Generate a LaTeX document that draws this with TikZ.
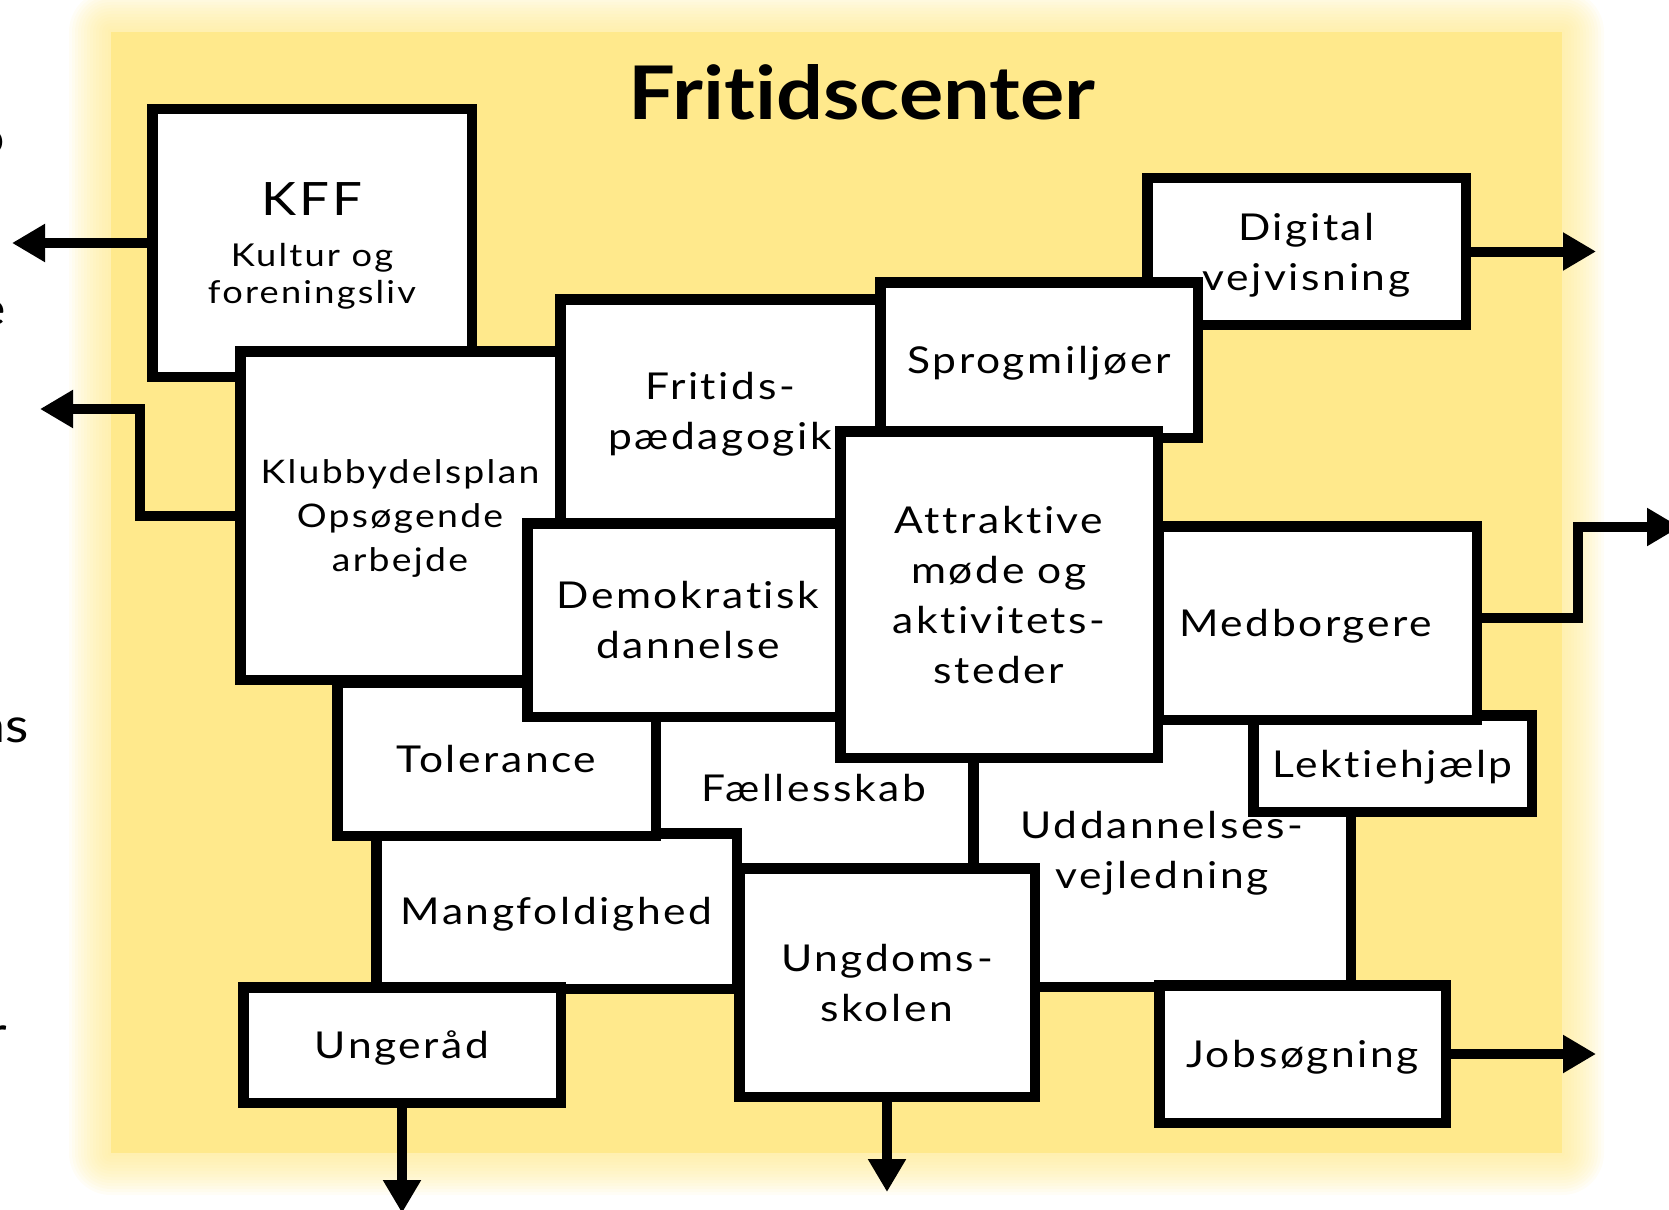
\documentclass[tikz,border=0pt]{standalone}
\usepackage{fontspec}
\setmainfont{Lato}[FakeStretch=1.15, LetterSpace=7, Ligatures=NoCommon]
\newfontfamily\titlefont{Lato}[FakeStretch=1.12, Ligatures=NoCommon]
\usetikzlibrary{arrows.meta}
\definecolor{bgyellow}{RGB}{255,233,140}
\newcommand\drawbox[7][]{%
  \node[box,#1,minimum width={(#5-#3-10.5)*1pt},minimum height={(#6-#4-10.5)*1pt}] (#2) at ({(#3+#5)/2},{(#4+#6)/2}) {#7};}
\begin{document}
\begin{tikzpicture}[x=1pt,y=-1pt,
  box/.style={draw=black, fill=white, line width=10.5pt, align=center, inner sep=0pt,
    text depth=0pt, font=\fontsize{37}{50}\selectfont},
  arr/.style={line width=10pt, -{Triangle[length=33pt,width=36pt]}},
  frag/.style={font=\titlefont\fontsize{48}{48}\selectfont, inner sep=0pt}]
\useasboundingbox (0,0) rectangle (1669,1209);
% background with soft glow
\foreach \i in {14,13,...,1}{
  \fill[bgyellow, opacity=0.08, rounded corners={\i*3pt}] ({111-\i*3},{32-\i*3}) rectangle ({1562+\i*3},{1153+\i*3});
}
\fill[bgyellow] (111,32) rectangle (1562,1153);
% cut-off text at left edge
\node[frag, anchor=base east] (fa) at (5,155) {o};
\node[frag, anchor=base east] (fb) at (6,325) {e};
\node[frag, anchor=base east] (fc) at (29,742) {ns};
\node[frag, anchor=base east] (fd) at (7,1050) {r};
% title
\node[font=\titlefont\fontsize{74}{74}\selectfont\bfseries, anchor=base, inner sep=0pt] (title) at (862,120) {Fritidscenter};
% boxes, bottom to top
\drawbox{udd}{968}{708}{1356}{992}{Uddannelses-\\vejledning}
\drawbox{faell}{650}{703}{978}{873}{Fællesskab}
\drawbox{mang}{371}{828}{742}{994}{Mangfoldighed}
\drawbox{tol}{332}{677}{661}{841}{Tolerance}
\drawbox[font=\fontsize{31.5}{37}\selectfont]{kff}{147}{104}{477}{382}{{\fontsize{46}{46}\selectfont KFF}\\[14pt]Kultur og\\foreningsliv}
\drawbox[font=\fontsize{32.5}{44}\selectfont]{klub}{235}{346}{565}{685}{Klubbydelsplan\\Opsøgende\\arbejde}
\drawbox{dig}{1142}{173}{1471}{330}{Digital\\vejvisning}
\drawbox{frit}{555}{294}{885}{528}{Fritids-\\pædagogik}
\drawbox{sprog}{875}{277}{1203}{443}{Sprogmiljøer}
\drawbox{demo}{522}{518}{854}{722}{Demokratisk\\dannelse}
\drawbox{attr}{835}{426}{1163}{763}{Attraktive\\møde og\\aktivitets-\\steder}
\drawbox{lekt}{1248}{710}{1537}{817}{Lektiehjælp}
\drawbox{medb}{1153}{521}{1482}{725}{\hspace*{-24pt}Medborgere}
\drawbox{ungd}{734}{863}{1040}{1102}{Ungdoms-\\skolen}
\drawbox{unger}{238}{982}{566}{1108}{Ungeråd}
\drawbox{jobs}{1154}{980}{1451}{1128}{Jobsøgning}
% connector ends
\coordinate (kffend) at (12,243);
\coordinate (klubend) at (40,409);
\coordinate (digend) at (1596,251.5);
\coordinate (medbend) at (1680,527);
\coordinate (jobsend) at (1596,1054);
\coordinate (ungerend) at (402,1213);
\coordinate (ungdend) at (887,1192);
% connectors
\draw[arr] (kff.west) -- (kffend);
\draw[arr] (klub.west) -- ++(-95.5,0) |- (klubend);
\draw[arr] (dig.east) -- (digend);
\draw[arr] ([yshift=5pt]medb.east) -- ++(96,0) |- (medbend);
\draw[arr] (jobs.east) -- (jobsend);
\draw[arr] (unger.south) -- (ungerend);
\draw[arr] (ungd.south) -- (ungdend);
\end{tikzpicture}
\end{document}
